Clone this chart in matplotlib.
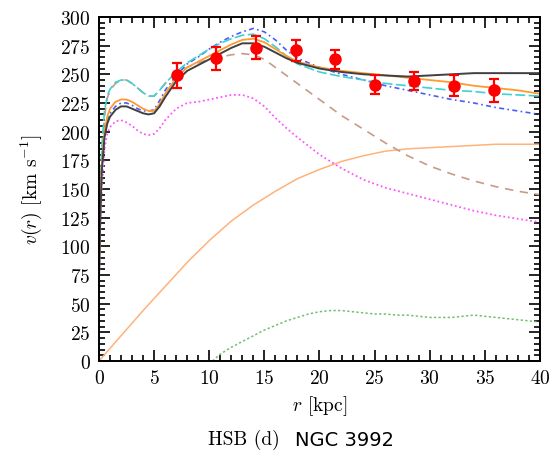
import numpy as np
import matplotlib
matplotlib.use("Agg")
import matplotlib.pyplot as plt
from matplotlib.ticker import MultipleLocator

plt.rcParams['font.family'] = 'serif'
plt.rcParams['font.serif'] = ['cmr10', 'DejaVu Serif']
plt.rcParams['mathtext.fontset'] = 'cm'
plt.rcParams['axes.formatter.use_mathtext'] = True

# data points
r_obs = [7.1, 10.6, 14.2, 17.9, 21.4, 25.0, 28.6, 32.2, 35.8]
v_obs = [249, 264, 273, 271, 263, 241, 244, 240, 236]
v_err = [11, 10, 10, 9, 8, 8, 8, 9, 10]

# model curves
r_m = [0, 0.1, 0.25, 0.5, 0.75, 1.0, 1.5, 2.0, 2.5, 3, 3.5, 4, 4.5, 5, 5.5, 6, 7, 8, 9, 10,
       11, 12, 13, 14, 15, 16, 17, 18, 20, 22, 24, 26, 28, 30, 32, 34, 36, 38, 40]
v_black = [70, 120, 165, 195, 207, 213, 219, 222, 222, 220, 218, 216, 215, 216, 222, 230, 244, 253, 258, 263,
           268, 273, 277, 277, 274, 269, 264, 260, 255, 252, 250, 249, 248, 249, 250, 251, 251, 251, 251]
v_orange = [70, 125, 170, 200, 213, 220, 226, 228, 228, 226, 223, 220, 218, 218, 224, 233, 247, 256, 261, 266,
            271, 276, 280, 281, 278, 272, 266, 261, 256, 253, 251, 249, 247, 245, 243, 240, 238, 236, 233]
v_cyan = [70, 135, 185, 218, 231, 237, 243, 245, 245, 242, 238, 234, 231, 231, 236, 242, 252, 260, 266, 272,
          277, 281, 284, 285, 281, 274, 266, 259, 252, 248, 245, 242, 240, 238, 236, 235, 233, 232, 231]
v_blue = [70, 120, 165, 197, 209, 216, 222, 225, 225, 223, 220, 218, 218, 219, 227, 236, 249, 259, 265, 272,
          278, 283, 287, 290, 287, 280, 271, 264, 256, 250, 245, 240, 236, 232, 228, 225, 221, 218, 215]
v_brown = [70, 130, 180, 213, 229, 236, 242, 245, 245, 242, 238, 234, 231, 231, 236, 242, 250, 256, 260, 263,
           265, 267, 268, 267, 263, 256, 249, 242, 228, 214, 202, 190, 179, 170, 163, 157, 152, 148, 145]
v_magenta = [75, 110, 150, 185, 198, 204, 209, 210, 208, 205, 201, 198, 197, 198, 203, 210, 220, 225, 226, 228,
             230, 232, 232, 229, 222, 212, 203, 195, 180, 168, 158, 151, 146, 141, 136, 131, 127, 124, 121]

r_halo = [0, 2, 4, 6, 8, 10, 12, 14, 16, 18, 20, 22, 24, 26, 28, 30, 32, 34, 36, 38, 40]
v_halo = [0, 22, 44, 65, 86, 105, 122, 136, 148, 159, 167, 174, 179, 183, 185, 186, 187, 188, 189, 189, 189]

r_gas = [10.3, 11, 12, 13, 14, 15, 16, 17, 18, 19, 20, 21, 22, 23, 24, 25, 26, 27, 28, 29, 30,
         31, 32, 33, 34, 35, 36, 37, 38, 39, 40]
v_gas = [0, 6, 12, 17, 22, 27, 31, 35, 38, 41, 43, 44, 44, 43, 42, 41, 41, 40, 40, 39, 38,
         38, 38, 39, 40, 39, 38, 37, 36, 35, 34]

fig = plt.figure(figsize=(5.57, 4.60), dpi=100)
ax = fig.add_axes([0.1777, 0.213, 0.7918, 0.748])

ax.plot(r_halo, v_halo, color='#ffb27a', lw=1.1)
ax.plot(r_gas, v_gas, color='#70c070', lw=1.1, ls=(0, (1.5, 1.5)))
ax.plot(r_m, v_magenta, color='#ff55ff', lw=1.3, ls=(0, (1, 1.5)))
ax.plot(r_m, v_brown, color='#c89a88', lw=1.2, ls=(0, (5, 4)))
ax.plot(r_m, v_blue, color='#4a5cff', lw=1.2, ls=(0, (3, 2, 1, 2)))
ax.plot(r_m, v_cyan, color='#40d0d0', lw=1.2, ls=(0, (6, 2)))
ax.plot(r_m, v_orange, color='#ff9a30', lw=1.3)
ax.plot(r_m, v_black, color='#404040', lw=1.4)

ax.errorbar(r_obs, v_obs, yerr=v_err, fmt='o', color='#ff0000', ms=8, capsize=3.5,
            elinewidth=1.6, capthick=1.6, zorder=10)

ax.set_xlim(0, 40)
ax.set_ylim(0, 300)
ax.xaxis.set_major_locator(MultipleLocator(5))
ax.xaxis.set_minor_locator(MultipleLocator(1))
ax.yaxis.set_major_locator(MultipleLocator(25))
ax.yaxis.set_minor_locator(MultipleLocator(5))
ax.tick_params(which='both', direction='in', top=True, right=True, width=1.2)
ax.tick_params(which='major', length=8, labelsize=14)
ax.tick_params(which='minor', length=4)
for s in ax.spines.values():
    s.set_linewidth(1.4)
ax.tick_params(axis='x', pad=6)
ax.tick_params(axis='y', pad=6)

ax.set_xlabel(r'$r$ [kpc]', fontsize=14, labelpad=4)
ax.set_ylabel(r'$v(r)$ [km s$^{-1}$]', fontsize=14, labelpad=12)

fig.text(0.502, 0.043, 'HSB (d)', fontsize=14, ha='right', va='center')
fig.text(0.530, 0.043, 'NGC 3992', fontsize=14, ha='left', va='center', family='DejaVu Sans')

fig.savefig('out.png', dpi=100)
